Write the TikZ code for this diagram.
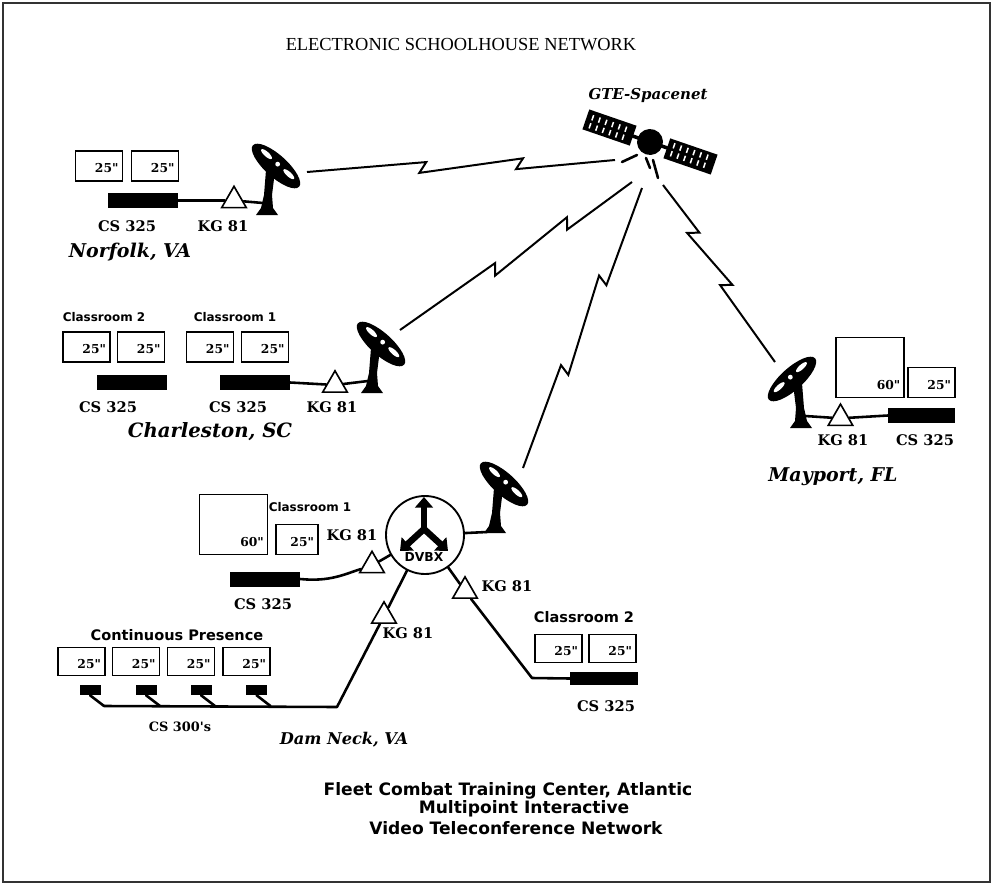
\documentclass[tikz,border=0pt]{standalone}
\usepackage{fontspec}
\setmainfont{Liberation Serif}
\newfontfamily\slabfont{DejaVu Serif}
\newfontfamily\labelsans{DejaVu Sans}
\usetikzlibrary{shapes.geometric,calc,arrows.meta}

% radio link with two lightning breaks: from, to, break 1 (ahead, behind), break 2 (ahead, behind)
\newcommand\zlink[6]{%
  \draw[radiolink] (#1)
    -- ($(#1)!#3!(#2)!4.5pt!90:(#2)$)
    -- ($(#1)!#4!(#2)!4.5pt!-90:(#2)$)
    -- ($(#1)!#5!(#2)!4.5pt!90:(#2)$)
    -- ($(#1)!#6!(#2)!4.5pt!-90:(#2)$)
    -- (#2);}

\tikzset{
  dish/.pic={
    \fill (-11,0) -- (11,0) -- (6,-7) -- (5,-20) -- (8,-44) -- (-1,-45) -- (-3,-20) -- (-6,-7) -- cycle;
    \begin{scope}[shift={(9,-49)}, rotate=-42]
      \fill (0,0) ellipse [x radius=31, y radius=11];
      \fill[white] (-15,-2.5) ellipse [x radius=7, y radius=2.4];
      \fill[white] (0,-2.5) circle [radius=2.4];
      \fill[white] (15,-2.5) ellipse [x radius=7, y radius=2.4];
    \end{scope}
    \coordinate (-join) at (-4,-12);
    \coordinate (-foot) at (-8,-1);
  }
}

\begin{document}
\begin{tikzpicture}[x=0.03cm, y=-0.03cm,
  ttl/.style={font=\fontsize{15.7}{18}\selectfont},
  place/.style={font=\slabfont\bfseries\itshape\fontsize{16.2}{18}\selectfont},
  dev/.style={font=\slabfont\bfseries\fontsize{12.5}{14}\selectfont},
  room/.style={font=\labelsans\bfseries\fontsize{10.2}{12}\selectfont},
  bigroom/.style={font=\labelsans\bfseries\fontsize{12.4}{14}\selectfont},
  caption/.style={font=\labelsans\bfseries\fontsize{14.6}{16}\selectfont},
  mon/.style={draw, line width=1.3pt, inner sep=0pt, minimum width=1.41cm,
    minimum height=0.9cm, text width=1.17cm, align=right,
    text height=0.45cm, text depth=0.05cm,
    font=\slabfont\bfseries\fontsize{10.5}{12}\selectfont},
  bigmon/.style={mon, minimum width=2.04cm, minimum height=1.8cm,
    text width=1.82cm, text height=1.45cm, text depth=0.12cm},
  bar/.style={fill=black, inner sep=0pt, minimum width=2.1cm, minimum height=0.45cm},
  cpbar/.style={bar, minimum width=0.63cm, minimum height=0.3cm},
  kg/.style={regular polygon, regular polygon sides=3, draw, fill=white,
    line width=1.4pt, minimum size=0.85cm, inner sep=0pt},
  wire/.style={line width=2.2pt, line cap=round, line join=round},
  radiolink/.style={line width=1.7pt, line join=miter},
  stub/.style={line width=2.2pt, line cap=round},
  hub/.style={circle, draw, line width=1.6pt, minimum size=2.34cm, inner sep=0pt},
  hubtext/.style={font=\labelsans\bfseries\fontsize{10.5}{12}\selectfont, inner sep=0pt},
  hubarrow/.style={line width=5.5pt, -{Triangle[length=9pt, width=15pt]}}
]
\useasboundingbox (0,0) rectangle (994,894);
\draw[line width=1.5pt, black!80] (3,3) rectangle (990,882);

% title
\node[ttl] (title) at (461,45) {ELECTRONIC SCHOOLHOUSE NETWORK};

% satellite
\node[place, font=\slabfont\bfseries\itshape\fontsize{12.8}{15}\selectfont] (gte) at (648,95) {GTE-Spacenet};
\begin{scope}[shift={(650,142)}, rotate=-19]
  \fill (-68,-11) rectangle (-18,10);
  \fill (18,-10) rectangle (68,11);
  \draw[line width=3pt] (-20,0) -- (20,0);
  \fill (0,0) circle [radius=13];
  \foreach \x in {-62,-55,...,-27} {\draw[white, line width=1.3pt] (\x,-7) -- (\x,-1.5) (\x,1.5) -- (\x,7);}
  \foreach \x in {24,31,...,62} {\draw[white, line width=1.3pt] (\x,-7) -- (\x,-1.5) (\x,1.5) -- (\x,7);}
\end{scope}
\draw[stub] (622,162) -- (637,155);
\draw[stub] (646,158) -- (650,168);
\draw[stub] (653,160) -- (658,178);

\coordinate (satN) at (615,160);
\coordinate (satC) at (632,182);
\coordinate (satD) at (642,188);
\coordinate (satM) at (663,185);
\coordinate (nfFeed) at (307,172);
\coordinate (chFeed) at (400,330);
\coordinate (dnFeed) at (523,468);
\coordinate (mpFeed) at (775,362);

% Norfolk
\node[mon] (nfM1) at (99,166) {25"};
\node[mon] (nfM2) at (155,166) {25"};
\node[bar] (nfBar) at (143,200.5) {};
\node[kg] (nfKG) at (234,200.5) {};
\pic (nfDish) at (267,215) {dish};
\node[dev] (nfCS) at (127,226) {CS 325};
\node[dev] (nfKGl) at (223,226) {KG 81};
\node[place] (nfName) at (130,252) {Norfolk, VA};
\draw[wire] (nfBar.east) -- (nfKG) -- (nfDish-join);

% Charleston
\node[room] (chR2) at (104,317) {Classroom 2};
\node[room] (chR1) at (235,317) {Classroom 1};
\node[mon] (chM1) at (86.5,347) {25"};
\node[mon] (chM2) at (141,347) {25"};
\node[mon] (chM3) at (210,347) {25"};
\node[mon] (chM4) at (265,347) {25"};
\node[bar] (chBar2) at (132,382.5) {};
\node[bar] (chBar1) at (255,382.5) {};
\node[kg] (chKG) at (335,385) {};
\pic (chDish) at (372,393) {dish};
\node[dev] (chCS2) at (108,407) {CS 325};
\node[dev] (chCS1) at (238,407) {CS 325};
\node[dev] (chKGl) at (332,407) {KG 81};
\node[place, font=\slabfont\bfseries\itshape\fontsize{16.8}{19}\selectfont] (chName) at (210,432) {Charleston, SC};
\draw[wire] (chBar1.east) -- (chKG) -- (chDish-join);

% Mayport
\node[bigmon] (mpM1) at (870,367.5) {60"};
\node[mon] (mpM2) at (931.5,382.5) {25"};
\node[bar, minimum width=2.01cm] (mpBar) at (921.5,415.5) {};
\node[kg] (mpKG) at (840.5,418.3) {};
\pic[xscale=-1] (mpDish) at (801,428) {dish};
\node[dev] (mpKGl) at (843,440) {KG 81};
\node[dev] (mpCS) at (925,440) {CS 325};
\node[place] (mpName) at (833,477) {Mayport, FL};
\draw[wire] (mpBar.west) -- (mpKG) -- (mpDish-join);

% Dam Neck
\node[room] (dnR1) at (310,507) {Classroom 1};
\node[bigmon] (dnM1) at (233.5,524.5) {60"};
\node[mon, minimum width=1.26cm, text width=1.02cm] (dnM2) at (297,539.5) {25"};
\node[bar] (dnBar1) at (265,579) {};
\node[dev] (dnCS1) at (263,604) {CS 325};

\node[hub] (dvbx) at (425,535) {};
\node[hubtext] (dvbxl) at (424,557) {DVBX};
\coordinate (hubC) at (424,529);
\coordinate (hubU) at (424,497);
\coordinate (hubL) at (400,551);
\coordinate (hubR) at (448,551);
\draw[hubarrow] (hubC) -- (hubU);
\draw[hubarrow] (hubC) -- (hubL);
\draw[hubarrow] (hubC) -- (hubR);

\node[kg] (kgUL) at (372,565.5) {};
\node[dev] (kgULl) at (352,535) {KG 81};
\node[kg] (kgLL) at (384,616) {};
\node[dev] (kgLLl) at (408,633) {KG 81};
\node[kg] (kgR) at (465,591) {};
\node[dev] (kgRl) at (507,586) {KG 81};
\pic (dnDish) at (495,533) {dish};

\node[bigroom] (dnR2) at (584,617) {Classroom 2};
\node[mon, minimum height=0.84cm] (dnM3) at (558.5,648.5) {25"};
\node[mon, minimum height=0.84cm] (dnM4) at (612.5,648.5) {25"};
\node[bar, minimum width=2.04cm, minimum height=0.4cm] (dnBar2) at (604,678.5) {};
\node[dev] (dnCS2) at (606,706) {CS 325};

\node[bigroom] (cpLbl) at (177,635) {Continuous Presence};
\foreach \i/\x in {1/81.5, 2/136, 3/191, 4/246.5} {
  \node[mon, minimum height=0.84cm] (cpM\i) at (\x,661.5) {25"};
}
\foreach \i/\x in {1/90, 2/146, 3/201, 4/256.5} {
  \node[cpbar] (cpB\i) at (\x,690) {};
  \coordinate (cpT\i) at (\x+14,706);
}
\node[dev, font=\slabfont\bfseries\fontsize{11}{13}\selectfont] (cpCS) at (180,727) {CS 300's};
\node[place, font=\slabfont\bfseries\itshape\fontsize{13.8}{16}\selectfont] (dnName) at (344,740) {Dam Neck, VA};

\coordinate (dnL) at (337,707);
\coordinate (dnRt) at (532,678);

\draw[wire] (dnBar1.east) .. controls (330,582) and (345,574) .. (kgUL);
\draw[wire] (kgUL) -- (dvbx);
\draw[wire] (dvbx) -- (kgLL);
\draw[wire] (kgLL) -- (dnL) -- (cpT1);
\foreach \i in {1,2,3,4} {\draw[wire] (cpB\i.south) -- (cpT\i);}
\draw[wire] (dvbx) -- (kgR);
\draw[wire] (kgR) -- (dnRt) -- (dnBar2.west);
\draw[wire] (dvbx) -- (dnDish-foot);

% satellite links
\zlink{nfFeed}{satN}{0.388}{0.364}{0.702}{0.678}
\zlink{chFeed}{satC}{0.422}{0.398}{0.732}{0.708}
\zlink{dnFeed}{satD}{0.36}{0.34}{0.68}{0.66}
\zlink{mpFeed}{satM}{0.45}{0.42}{0.745}{0.715}

% caption
\node[caption] (cap1) at (508,791) {Fleet Combat Training Center, Atlantic};
\node[caption] (cap2) at (524,809) {Multipoint Interactive};
\node[caption] (cap3) at (516,828) {Video Teleconference Network};
\end{tikzpicture}
\end{document}
